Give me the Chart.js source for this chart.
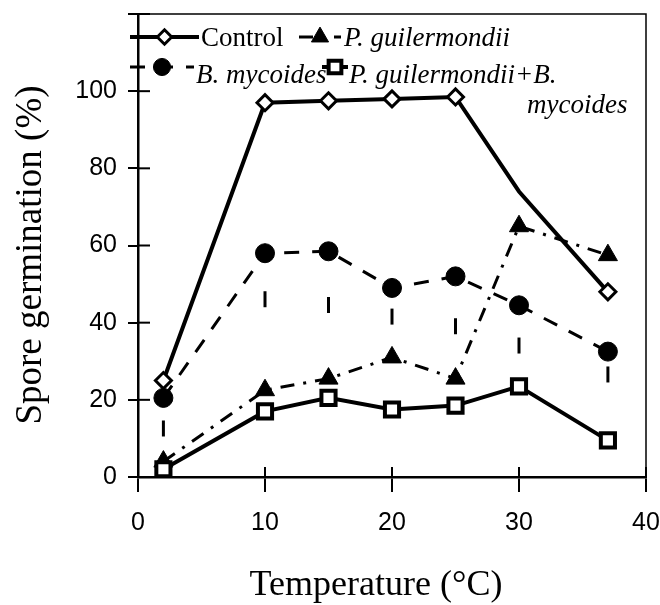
<!DOCTYPE html>
<html>
<head>
<meta charset="utf-8">
<script src="https://cdn.jsdelivr.net/npm/chart.js@4.4.1/dist/chart.umd.min.js"></script>
<style>
    body { margin: 0; background: #fff; }
    canvas { display: block; }
</style>
</head>
<body>
<canvas id="germChart" width="660" height="605"></canvas>
<script>
// values
const temps        = [2, 10, 15, 20, 25, 30, 37];
const control      = [25, 97, 97.5, 98, 98.5, 74, 48];
const guilermondii = [4, 22.5, 25.5, 31, 25.5, 65, 57.5];
const mycoides     = [20.5, 58, 58.5, 49, 52, 44.5, 32.5];
const mycoidesErr  = [10, 14, 16, 9.5, 15, 12.5, 8];
const combined     = [2, 17, 20.5, 17.5, 18.5, 23.5, 9.5];
const xTickLabels  = [0, 10, 20, 30, 40];
const yTickLabels  = [0, 20, 40, 60, 80, 100];
const seriesNames  = ['Control', 'P. guilermondii+B. mycoides', 'P. guilermondii', 'B. mycoides'];

// shared colours / fonts
const INK   = '#000';
const SERIF = "'Liberation Serif', 'Times New Roman', serif";
const SANS  = "'Liberation Sans', Arial, sans-serif";

const toPoints = ys => temps.map((t, i) => ({ x: t, y: ys[i] }));

// control curve has no marker at 30 in the original
const noMarkerAt = [30];

const datasets = [
    {
        label: seriesNames[0],
        data: toPoints(control),
        borderColor: INK,
        borderWidth: 4,
        pointStyle: 'rectRot',
        pointRadius: temps.map(t => noMarkerAt.includes(t) ? 0 : 8),
        pointBackgroundColor: '#fff',
        pointBorderColor: INK,
        pointBorderWidth: 3,
    },
    {
        label: seriesNames[1],
        data: toPoints(combined),
        borderColor: INK,
        borderWidth: 4,
        pointStyle: 'rect',
        pointRadius: 10,
        pointBackgroundColor: '#fff',
        pointBorderColor: INK,
        pointBorderWidth: 4,
    },
    {
        label: seriesNames[2],
        data: toPoints(guilermondii),
        borderColor: INK,
        borderWidth: 3,
        borderDash: [14, 9, 3, 9],
        pointStyle: 'triangle',
        pointRadius: 11,
        pointBackgroundColor: INK,
        pointBorderColor: INK,
        pointBorderWidth: 1,
    },
    {
        label: seriesNames[3],
        data: toPoints(mycoides),
        borderColor: INK,
        borderWidth: 3,
        borderDash: [15, 13],
        pointStyle: 'circle',
        pointRadius: 9.5,
        pointBackgroundColor: INK,
        pointBorderColor: INK,
        pointBorderWidth: 1,
    },
];

// dashed lower error bars of B. mycoides (only one dash shows under each circle)
const errorBars = {
    id: 'errorBars',
    beforeDatasetsDraw(chart) {
        const { ctx, scales: { x, y } } = chart;
        ctx.save();
        ctx.strokeStyle = INK;
        ctx.lineWidth = 3;
        ctx.setLineDash([16, 1000]);
        temps.forEach((t, i) => {
            const px = x.getPixelForValue(t);
            ctx.beginPath();
            ctx.moveTo(px, y.getPixelForValue(mycoides[i] - mycoidesErr[i]));
            ctx.lineTo(px, y.getPixelForValue(mycoides[i]));
            ctx.stroke();
        });
        ctx.restore();
    }
};

// frame, inward half of the tick marks, axis titles and the boxed legend
const decorations = {
    id: 'decorations',
    afterDraw(chart) {
        const { ctx, chartArea: a, scales: { x, y } } = chart;
        ctx.save();
        ctx.strokeStyle = INK;

        // thin frame on top and right
        ctx.lineWidth = 1.5;
        ctx.beginPath();
        ctx.moveTo(a.left - 8, a.top);
        ctx.lineTo(a.right, a.top);
        ctx.lineTo(a.right, a.bottom);
        ctx.stroke();

        // ticks cross the axes
        ctx.lineWidth = 2;
        y.ticks.forEach(tk => {
            const py = y.getPixelForValue(tk.value);
            ctx.beginPath();
            ctx.moveTo(a.left, py);
            ctx.lineTo(a.left + 12, py);
            ctx.stroke();
        });
        x.ticks.forEach(tk => {
            const px = x.getPixelForValue(tk.value);
            ctx.beginPath();
            ctx.moveTo(px, a.bottom);
            ctx.lineTo(px, a.bottom - 10);
            ctx.stroke();
        });

        // axis titles
        ctx.fillStyle = INK;
        ctx.textAlign = 'center';
        ctx.textBaseline = 'alphabetic';
        ctx.font = `36px ${SERIF}`;
        ctx.fillText('Temperature (\u00B0C)', 376, 595);
        ctx.save();
        ctx.translate(41, 255);
        ctx.rotate(-Math.PI / 2);
        ctx.font = `37px ${SERIF}`;
        ctx.fillText('Spore germination (%)', 0, 0);
        ctx.restore();

        // legend inside the plot
        const items = [
            { ds: 0, x1: 130, x2: 199, y: 37, tx: 201, ty: 46, text: 'Control', italic: false },
            { ds: 2, x1: 299, x2: 341, y: 37, tx: 344, ty: 46, text: 'P. guilermondii', italic: true },
            { ds: 3, x1: 130, x2: 194, y: 67, tx: 196, ty: 83, text: 'B. mycoides', italic: true },
            { ds: 1, x1: 322, x2: 348, y: 67, tx: 349, ty: 83, text: 'P. guilermondii+B.', italic: true },
        ];
        items.forEach(it => {
            const d = chart.data.datasets[it.ds];
            ctx.lineWidth = d.borderWidth;
            ctx.setLineDash(d.borderDash || []);
            ctx.beginPath();
            ctx.moveTo(it.x1, it.y);
            ctx.lineTo(it.x2, it.y);
            ctx.stroke();
            ctx.setLineDash([]);
            ctx.fillStyle = d.pointBackgroundColor;
            ctx.strokeStyle = d.pointBorderColor;
            ctx.lineWidth = d.pointBorderWidth;
            const r = Array.isArray(d.pointRadius) ? d.pointRadius[0] : d.pointRadius;
            Chart.helpers.drawPoint(ctx, {
                pointStyle: d.pointStyle, radius: r * 0.9, rotation: 0, borderWidth: d.pointBorderWidth
            }, (it.x1 + it.x2) / 2, it.y);
            ctx.strokeStyle = INK;
            ctx.fillStyle = INK;
            ctx.font = `${it.italic ? 'italic ' : ''}27px ${SERIF}`;
            ctx.textAlign = 'left';
            ctx.fillText(it.text, it.tx, it.ty);
        });
        // second line of the long label
        ctx.font = `italic 27px ${SERIF}`;
        ctx.fillText('mycoides', 527, 113);
        ctx.restore();
    }
};

new Chart(document.getElementById('germChart'), {
    type: 'line',
    data: { datasets },
    plugins: [errorBars, decorations],
    options: {
        responsive: false,
        animation: false,
        devicePixelRatio: 1,
        layout: { padding: { top: 12, right: 9, left: 0, bottom: 0 } },
        plugins: {
            legend: { display: false },
            tooltip: { enabled: false },
        },
        scales: {
            x: {
                type: 'linear',
                min: 0,
                max: 40,
                // fixed height, and no extra room for the end labels
                afterFit: s => { s.height = 128; s.paddingLeft = 0; s.paddingRight = 0; },
                border: { display: true, color: INK, width: 2.5 },
                grid: { drawOnChartArea: false, drawTicks: true, tickLength: 15, color: INK, lineWidth: 2 },
                ticks: {
                    stepSize: 10,
                    color: INK,
                    padding: 16,
                    font: { family: SANS, size: 25 },
                    callback: v => xTickLabels.includes(v) ? v : '',
                },
            },
            y: {
                min: 0,
                max: 120,
                afterFit: s => { s.width = 138; s.paddingTop = 0; s.paddingBottom = 0; },
                border: { display: true, color: INK, width: 2.5 },
                grid: { drawOnChartArea: false, drawTicks: true, tickLength: 10, color: INK, lineWidth: 2 },
                ticks: {
                    stepSize: 20,
                    color: INK,
                    padding: 11,
                    font: { family: SANS, size: 25 },
                    callback: v => yTickLabels.includes(v) ? v : '', // no label at the top (120)
                },
            },
        },
    },
});
</script>
</body>
</html>
